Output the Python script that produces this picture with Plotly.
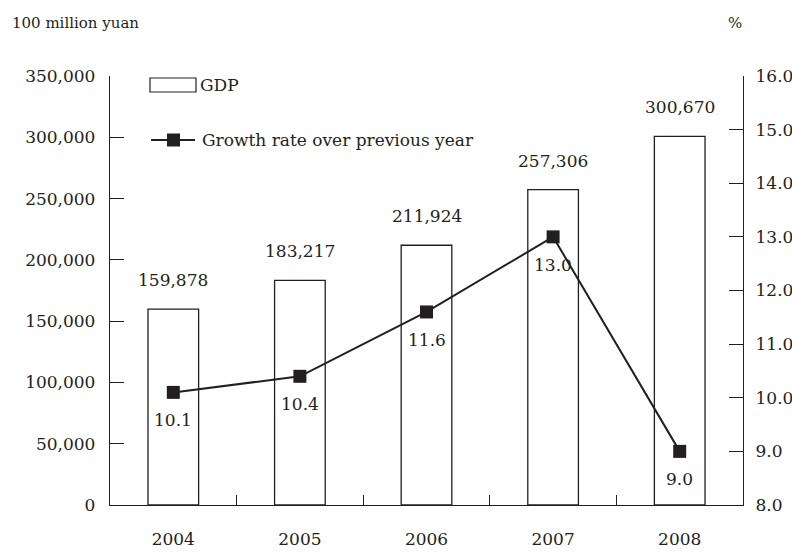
import plotly.graph_objects as go

years = ["2004", "2005", "2006", "2007", "2008"]
gdp = [159878, 183217, 211924, 257306, 300670]
growth = [10.1, 10.4, 11.6, 13.0, 9.0]
left_ticks = [0, 50000, 100000, 150000, 200000, 250000, 300000, 350000]
right_ticks = [8, 9, 10, 11, 12, 13, 14, 15, 16]

FONT = "DejaVu Serif"
INK = "#231f20"
fs = 17

fig = go.Figure()
fig.add_trace(go.Bar(
    x=years, y=gdp, width=0.4, name="GDP",
    marker=dict(color="white", line=dict(color=INK, width=1.3)),
    showlegend=False,
))
fig.add_trace(go.Scatter(
    x=years, y=growth, yaxis="y2", mode="lines+markers",
    name="Growth rate over previous year",
    line=dict(color=INK, width=2),
    marker=dict(symbol="square", size=13, color=INK),
    showlegend=False,
))

def px(xp):
    return (xp - 110) / 633

def py(yp):
    return (505 - yp) / 429

ann = []
for i, v in enumerate(gdp):
    ann.append(dict(x=i, y=v, xref="x", yref="y", text=f"{v:,}", showarrow=False,
                    yanchor="middle", yshift=29, font=dict(family=FONT, size=fs, color=INK)))
for i, v in enumerate(growth):
    ann.append(dict(x=i, y=v, xref="x", yref="y2", text=f"{v:.1f}", showarrow=False,
                    yanchor="middle", yshift=-28, font=dict(family=FONT, size=fs, color=INK)))
ann.append(dict(x=px(10), y=py(23), xref="x domain", yref="y domain", text="100 million yuan",
                showarrow=False, xanchor="left", yanchor="middle",
                font=dict(family=FONT, size=15, color=INK)))
ann.append(dict(x=px(735), y=py(23), xref="x domain", yref="y domain", text="%",
                showarrow=False, xanchor="center", yanchor="middle",
                font=dict(family=FONT, size=15, color=INK)))
# legend text
ann.append(dict(x=px(198), y=py(85), xref="x domain", yref="y domain", text="GDP",
                showarrow=False, xanchor="left", yanchor="middle", font=dict(family=FONT, size=fs, color=INK)))
ann.append(dict(x=px(200), y=py(140), xref="x domain", yref="y domain",
                text="Growth rate over previous year",
                showarrow=False, xanchor="left", yanchor="middle", font=dict(family=FONT, size=fs, color=INK)))

shapes = [
    dict(type="rect", xref="x domain", yref="y domain", x0=px(150), x1=px(196), y0=py(92), y1=py(78),
         line=dict(color=INK, width=1.2), fillcolor="white"),
    dict(type="line", xref="x domain", yref="y domain", x0=px(151), x1=px(195), y0=py(140), y1=py(140),
         line=dict(color=INK, width=2)),
    dict(type="rect", xref="x domain", yref="y domain", x0=px(167), x1=px(180), y0=py(146.5), y1=py(133.5),
         line=dict(color=INK, width=0), fillcolor=INK),
]

fig.update_layout(
    width=792, height=552,
    margin=dict(l=110, r=49, t=76, b=47),
    paper_bgcolor="white", plot_bgcolor="white",
    font=dict(family=FONT, size=fs, color=INK),
    bargap=0.6,
    xaxis=dict(type="category", range=[-0.5, 4.5], showline=True, linecolor=INK, linewidth=1.3,
               ticks="inside", tickson="boundaries", ticklen=10, tickcolor=INK, tickwidth=1.2,
               showgrid=False, tickfont=dict(family=FONT, size=fs, color=INK), ticklabelstandoff=18,
               tickangle=0, automargin=False),
    yaxis=dict(range=[0, 350000], tickvals=left_ticks, ticktext=[f"{t:,}" for t in left_ticks],
               showline=True, linecolor=INK, linewidth=1.3, ticks="inside", ticklen=14,
               tickcolor=INK, tickwidth=1.2, showgrid=False, zeroline=False, automargin=False,
               tickfont=dict(family=FONT, size=fs, color=INK), ticklabelstandoff=10),
    yaxis2=dict(range=[8, 16], overlaying="y", side="right", tickvals=right_ticks,
                ticktext=[f"{t:.1f}" for t in right_ticks],
                showline=True, linecolor=INK, linewidth=1.3, ticks="inside", ticklen=14,
                tickcolor=INK, tickwidth=1.2, showgrid=False, zeroline=False, automargin=False,
                tickfont=dict(family=FONT, size=fs, color=INK), ticklabelstandoff=8),
    annotations=ann, shapes=shapes, showlegend=False,
)

fig.write_html("out.html", config={"displayModeBar": False},
               post_script="document.body.style.margin='0';document.body.style.padding='0';")
